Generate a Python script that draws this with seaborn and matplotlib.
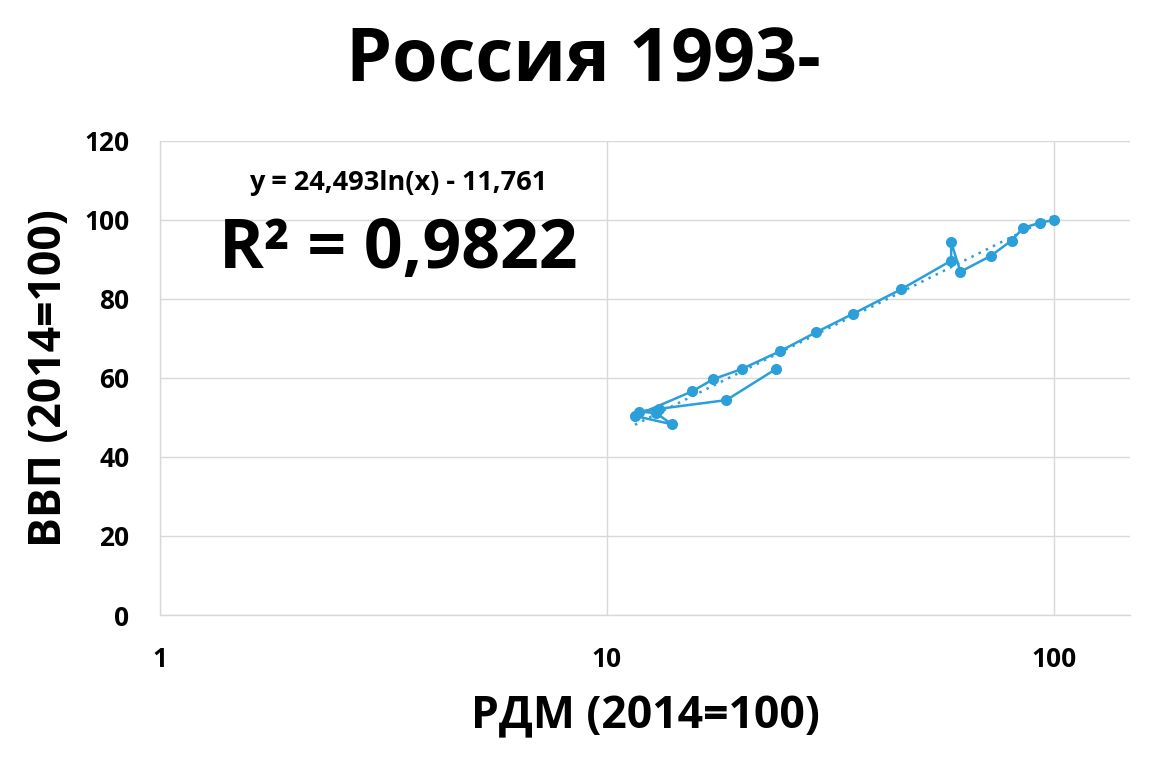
import numpy as np
import pandas as pd
import matplotlib
matplotlib.use("Agg")
import matplotlib.pyplot as plt
import seaborn as sns
from matplotlib.ticker import FixedLocator, FixedFormatter, NullLocator

years = list(range(1993, 2015))
rdm = [23.9, 18.5, 13.1, 11.8, 12.9, 13.95, 11.55, 15.5, 17.3, 20.05, 24.4,
       29.4, 35.6, 45.6, 58.9, 58.9, 61.8, 72.2, 80.4, 85.4, 93.0, 100.0]
gdp = [62.3, 54.4, 52.2, 51.5, 51.1, 48.3, 50.4, 56.6, 59.7, 62.3, 66.8,
       71.6, 76.3, 82.5, 89.7, 94.4, 86.9, 90.9, 94.8, 98.0, 99.3, 100.0]
trend_a, trend_b = 24.493, -11.761
title = "Россия 1993-"
xlabel = "РДМ (2014=100)"
ylabel = "ВВП (2014=100)"
eq_text = "y = 24,493ln(x) - 11,761"
r2_text = "R² = 0,9822"
xticks = [1, 10, 100]
yticks = [0, 20, 40, 60, 80, 100, 120]

df = pd.DataFrame({"year": years, "rdm": rdm, "gdp": gdp})

sns.set_theme(style="white")
plt.rcParams['font.family'] = ['Open Sans', 'DejaVu Sans']
plt.rcParams['text.color'] = 'black'
plt.rcParams['axes.labelcolor'] = 'black'
plt.rcParams['xtick.color'] = 'black'
plt.rcParams['ytick.color'] = 'black'
color = "#2b9fd9"

fig = plt.figure(figsize=(11.71, 7.58), dpi=100)
ax = fig.add_axes([160/1171, 1 - 615/758, (1130-160)/1171, (615-141)/758])

sns.lineplot(data=df, x="rdm", y="gdp", sort=False, ax=ax, color=color,
             linewidth=1.8, marker="o", markersize=8, markeredgewidth=0,
             estimator=None)

tx = np.geomspace(min(rdm), max(rdm), 100)
ty = trend_a * np.log(tx) + trend_b
ax.plot(tx, ty, linestyle=(0, (1, 2.2)), color=color, linewidth=1.8)

ax.set_xscale("log")
ax.set_xlim(1, 148)
ax.set_ylim(0, 120)
ax.xaxis.set_major_locator(FixedLocator(xticks))
ax.xaxis.set_major_formatter(FixedFormatter([str(t) for t in xticks]))
ax.xaxis.set_minor_locator(NullLocator())
ax.set_yticks(yticks)
ax.set_yticklabels([str(t) for t in yticks])
ax.grid(True, color="#d9d9d9", linewidth=1.0)
for s in ["top", "right"]:
    ax.spines[s].set_visible(False)
for s in ["left", "bottom"]:
    ax.spines[s].set_color("#d9d9d9")
    ax.spines[s].set_linewidth(1.0)
ax.tick_params(axis="y", length=0, labelsize=19, pad=22)
ax.tick_params(axis="x", length=0, labelsize=19, pad=22)
for lab in ax.get_xticklabels() + ax.get_yticklabels():
    lab.set_fontweight("bold")

ax.set_xlabel(xlabel, fontsize=32, fontweight="bold", labelpad=16)
ax.set_ylabel(ylabel, fontsize=32, fontweight="bold", labelpad=9)

fig.text(583/1171, 1 - 62/758, title, ha="center", va="center", fontsize=53,
         fontweight="bold")
fig.text(398/1171, 1 - 183/758, eq_text, ha="center", va="center",
         fontsize=19.5, fontweight="bold")
fig.text(398/1171, 1 - 250/758, r2_text, ha="center", va="center",
         fontsize=49, fontweight="bold")

fig.savefig("out.png", dpi=100)
